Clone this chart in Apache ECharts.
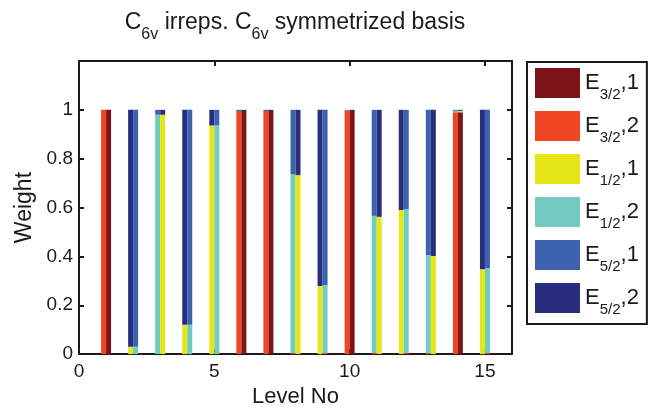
<!DOCTYPE html>
<html>
<head>
<meta charset="utf-8">
<script src="https://cdn.jsdelivr.net/npm/echarts@6/dist/echarts.min.js"></script>
<style>
  html, body { margin: 0; padding: 0; background: #fff; }
  #chart { width: 650px; height: 413px; }
</style>
</head>
<body>
<div id="chart"></div>
<script>
// Level numbers (x positions of each degenerate pair of states)
const levels = [1, 2, 3, 4, 5, 6, 7, 8, 9, 10, 11, 12, 13, 14, 15];

// Irrep names and colours (legend order = stacking order, bottom to top)
const irrepNames = ['E3/2,1', 'E3/2,2', 'E1/2,1', 'E1/2,2', 'E5/2,1', 'E5/2,2'];
const irrepColors = ['#7f1418', '#f04423', '#e6e617', '#72cbc1', '#3d63b0', '#292d7d'];

// Weights of the first state of each pair (left bar)
const e32_1L = [0, 0, 0, 0, 0, 0, 0, 0, 0, 0, 0, 0, 0, 0, 0];
const e32_2L = [1, 0, 0, 0, 0, 0.995, 0.995, 0.004, 0, 0.998, 0.004, 0, 0.004, 0.99, 0];
const e12_1L = [0, 0.03, 0, 0.12, 0.936, 0, 0, 0, 0.279, 0, 0, 0.59, 0, 0, 0.347];
const e12_2L = [0, 0, 0.98, 0, 0, 0, 0, 0.733, 0, 0, 0.562, 0, 0.402, 0.006, 0];
const e52_1L = [0, 0, 0.02, 0, 0, 0.005, 0.005, 0.263, 0, 0.002, 0.434, 0, 0.594, 0.004, 0];
const e52_2L = [0, 0.97, 0, 0.88, 0.064, 0, 0, 0, 0.721, 0, 0, 0.41, 0, 0, 0.653];

// Weights of the second state of each pair (right bar)
const e32_1R = [1, 0, 0, 0, 0, 0.995, 0.995, 0, 0, 0.995, 0, 0, 0, 0.99, 0];
const e32_2R = [0, 0, 0, 0, 0, 0, 0, 0, 0.004, 0, 0, 0.004, 0, 0, 0.004];
const e12_1R = [0, 0, 0.98, 0, 0, 0, 0, 0.733, 0, 0, 0.562, 0, 0.402, 0.006, 0];
const e12_2R = [0, 0.03, 0, 0.12, 0.936, 0, 0, 0, 0.279, 0, 0, 0.59, 0, 0, 0.347];
const e52_1R = [0, 0.97, 0, 0.88, 0.064, 0, 0, 0, 0.717, 0, 0, 0.406, 0, 0, 0.649];
const e52_2R = [0, 0, 0.02, 0, 0, 0.005, 0.005, 0.267, 0, 0.005, 0.438, 0, 0.598, 0.004, 0];

// Axis ticks
const xMax = 16;
const xTicks = [0, 5, 10, 15];
const yTicks = [0, 0.2, 0.4, 0.6, 0.8, 1];

const leftSets = [e32_1L, e32_2L, e12_1L, e12_2L, e52_1L, e52_2L];
const rightSets = [e32_1R, e32_2R, e12_1R, e12_2R, e52_1R, e52_2R];

const FONT = 'Liberation Sans, Arial, Helvetica, sans-serif';
const INK = '#1a1a1a';

// x positions 0..16 as ordinal slots; bars sit on the slot ticks
const xSlots = [];
for (let i = 0; i <= xMax; i++) xSlots.push(String(i));

function toPairs(vals) {
  return levels.map((lv, i) => [lv, vals[i]]);
}

const series = [];
irrepNames.forEach((name, k) => {
  series.push({
    name: name, type: 'bar', stack: 'left', barWidth: 5, barGap: '0%',
    itemStyle: { color: irrepColors[k] }, data: toPairs(leftSets[k])
  });
});
irrepNames.forEach((name, k) => {
  series.push({
    name: name, type: 'bar', stack: 'right', barWidth: 5, barGap: '0%',
    itemStyle: { color: irrepColors[k] }, data: toPairs(rightSets[k])
  });
});

// "E3/2,1" -> E with subscript 3/2, then ",1"
function irrepLabel(name) {
  return name.replace(/^E(\d\/\d),(\d)$/, '{e|E}{s|$1}{e|,$2}');
}

const isXTick = (idx) => xTicks.indexOf(idx) >= 0;
const frameLine = { show: true, onZero: false, lineStyle: { color: INK, width: 2 } };
const innerTick = { show: true, inside: true, length: 5, lineStyle: { color: INK, width: 2 } };
const innerXTick = Object.assign({}, innerTick, { interval: isXTick, alignWithLabel: true });

const chart = echarts.init(document.getElementById('chart'), null, { renderer: 'canvas' });
chart.setOption({
  backgroundColor: '#fff',
  animation: false,
  title: {
    text: '{c|C}{s|6v}{c| irreps. C}{s|6v}{c| symmetrized basis}',
    left: 295, top: 11, padding: 0, textAlign: 'center',
    textStyle: {
      fontWeight: 'normal',
      rich: {
        c: { fontFamily: FONT, fontSize: 23, fontWeight: 'normal', color: INK, lineHeight: 23, verticalAlign: 'top' },
        s: { fontFamily: FONT, fontSize: 16, fontWeight: 'normal', color: INK, lineHeight: 16, padding: [16, 0, 0, 0], verticalAlign: 'top' }
      }
    }
  },
  grid: { left: 79, right: 138, top: 61, bottom: 51, containLabel: false },
  legend: {
    orient: 'vertical', left: 527, top: 62,
    padding: [6, 8, 7, 8],
    borderColor: INK, borderWidth: 2,
    itemWidth: 45, itemHeight: 30, itemGap: 9,
    icon: 'rect',
    data: irrepNames,
    formatter: irrepLabel,
    textStyle: {
      rich: {
        e: { fontFamily: FONT, fontSize: 22, color: INK, lineHeight: 22, verticalAlign: 'top' },
        s: { fontFamily: FONT, fontSize: 15, color: INK, lineHeight: 15, padding: [15, 0, 0, 0], verticalAlign: 'top' }
      }
    }
  },
  xAxis: [
    {
      type: 'category', data: xSlots, boundaryGap: false, position: 'bottom',
      name: 'Level No', nameLocation: 'middle', nameGap: 31,
      nameTextStyle: { fontFamily: FONT, fontSize: 22, color: INK },
      axisLine: frameLine, axisTick: innerXTick, splitLine: { show: false },
      axisLabel: {
        fontFamily: FONT, fontSize: 19, color: INK, margin: 8,
        interval: isXTick
      }
    },
    {
      type: 'category', data: xSlots, boundaryGap: false, position: 'top',
      axisLine: frameLine, axisTick: innerXTick, splitLine: { show: false },
      axisLabel: { show: false }
    }
  ],
  yAxis: [
    {
      type: 'value', min: 0, max: 1.2, interval: 0.2, position: 'left',
      name: 'Weight', nameLocation: 'middle', nameGap: 41,
      nameTextStyle: { fontFamily: FONT, fontSize: 23, color: INK },
      axisLine: frameLine, axisTick: innerTick, splitLine: { show: false },
      axisLabel: {
        fontFamily: FONT, fontSize: 19, color: INK, margin: 6,
        formatter: v => {
          const r = Math.round(v * 10) / 10;
          return yTicks.indexOf(r) >= 0 ? String(r) : '';
        }
      }
    },
    {
      type: 'value', min: 0, max: 1.2, interval: 0.2, position: 'right',
      axisLine: frameLine, axisTick: innerTick, splitLine: { show: false },
      axisLabel: { show: false }
    }
  ],
  series: series
});
</script>
</body>
</html>
